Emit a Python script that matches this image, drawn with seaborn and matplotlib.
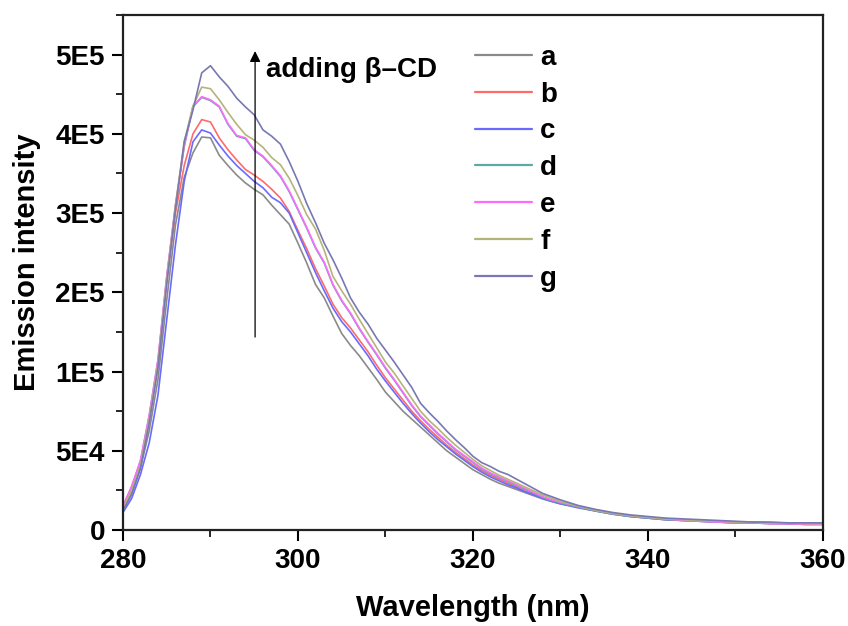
import matplotlib
matplotlib.use("Agg")
import matplotlib.pyplot as plt
from matplotlib.ticker import FixedLocator, FixedFormatter, MultipleLocator
import seaborn as sns
import pandas as pd

# wavelength grid (nm)
wavelength = list(range(280, 331)) + list(range(332, 361, 2))

# emission intensity, in units of 1E5
a = [0.27, 0.47, 0.78, 1.25, 1.90, 2.90, 3.85, 4.45, 4.76, 4.96, 4.95,
     4.73, 4.60, 4.48, 4.38, 4.30, 4.23, 4.10, 3.98, 3.86, 3.62,
     3.37, 3.10, 2.93, 2.70, 2.48, 2.33, 2.20, 2.05, 1.90, 1.74,
     1.62, 1.50, 1.40, 1.30, 1.20, 1.10, 1.00, 0.92, 0.84, 0.76,
     0.70, 0.64, 0.59, 0.55, 0.51, 0.47, 0.43, 0.39, 0.36, 0.33,
     0.29, 0.25, 0.21, 0.18, 0.16, 0.14, 0.13, 0.12, 0.11, 0.10, 0.10, 0.09, 0.09, 0.09, 0.09]
b = [0.30, 0.55, 0.85, 1.40, 2.08, 3.15, 4.00, 4.60, 5.00, 5.18, 5.15,
     4.95, 4.80, 4.67, 4.55, 4.48, 4.40, 4.30, 4.19, 4.02, 3.78,
     3.55, 3.30, 3.08, 2.85, 2.68, 2.55, 2.40, 2.25, 2.08, 1.92,
     1.78, 1.64, 1.50, 1.38, 1.27, 1.17, 1.07, 0.98, 0.90, 0.82,
     0.75, 0.69, 0.64, 0.59, 0.54, 0.49, 0.45, 0.41, 0.37, 0.34,
     0.29, 0.24, 0.20, 0.17, 0.15, 0.13, 0.12, 0.11, 0.10, 0.09, 0.09, 0.08, 0.08, 0.07, 0.07]
c = [0.22, 0.40, 0.70, 1.10, 1.70, 2.65, 3.60, 4.40, 4.90, 5.05, 5.01,
     4.86, 4.72, 4.60, 4.50, 4.40, 4.32, 4.20, 4.13, 4.00, 3.75,
     3.50, 3.25, 3.02, 2.80, 2.63, 2.50, 2.35, 2.20, 2.03, 1.88,
     1.74, 1.60, 1.47, 1.35, 1.24, 1.14, 1.05, 0.96, 0.88, 0.80,
     0.73, 0.67, 0.62, 0.57, 0.53, 0.48, 0.44, 0.40, 0.36, 0.33,
     0.28, 0.24, 0.20, 0.17, 0.15, 0.13, 0.12, 0.11, 0.10, 0.09, 0.09, 0.09, 0.08, 0.08, 0.08]
d = [0.29, 0.54, 0.87, 1.44, 2.14, 3.19, 4.09, 4.84, 5.34, 5.46, 5.42,
     5.34, 5.12, 4.97, 4.94, 4.79, 4.71, 4.59, 4.46, 4.27, 4.04,
     3.81, 3.56, 3.37, 3.09, 2.89, 2.73, 2.54, 2.37, 2.21, 2.04,
     1.89, 1.73, 1.57, 1.43, 1.32, 1.21, 1.11, 1.01, 0.93, 0.85,
     0.77, 0.71, 0.66, 0.61, 0.56, 0.51, 0.46, 0.41, 0.37, 0.34,
     0.29, 0.24, 0.20, 0.17, 0.15, 0.13, 0.12, 0.11, 0.10, 0.09, 0.09, 0.08, 0.08, 0.07, 0.07]
e = [0.30, 0.55, 0.88, 1.45, 2.15, 3.20, 4.10, 4.85, 5.35, 5.47, 5.43,
     5.35, 5.13, 4.98, 4.95, 4.80, 4.72, 4.60, 4.47, 4.28, 4.05,
     3.82, 3.57, 3.38, 3.10, 2.90, 2.74, 2.55, 2.38, 2.22, 2.05,
     1.90, 1.74, 1.58, 1.44, 1.33, 1.22, 1.12, 1.02, 0.94, 0.86,
     0.78, 0.72, 0.67, 0.62, 0.57, 0.52, 0.47, 0.42, 0.38, 0.35,
     0.30, 0.25, 0.21, 0.18, 0.16, 0.14, 0.12, 0.11, 0.10, 0.09, 0.09, 0.08, 0.08, 0.07, 0.07]
f = [0.28, 0.50, 0.82, 1.40, 2.10, 3.15, 4.10, 4.90, 5.35, 5.59, 5.57,
     5.43, 5.27, 5.12, 4.99, 4.92, 4.83, 4.70, 4.61, 4.44, 4.22,
     3.98, 3.80, 3.53, 3.20, 3.02, 2.85, 2.66, 2.48, 2.30, 2.12,
     1.98, 1.82, 1.66, 1.50, 1.38, 1.28, 1.17, 1.07, 0.98, 0.89,
     0.81, 0.75, 0.69, 0.64, 0.59, 0.54, 0.49, 0.44, 0.40, 0.36,
     0.30, 0.25, 0.21, 0.18, 0.16, 0.14, 0.13, 0.12, 0.11, 0.10, 0.10, 0.09, 0.09, 0.08, 0.08]
g = [0.24, 0.45, 0.78, 1.35, 2.05, 3.10, 4.05, 4.90, 5.30, 5.77, 5.86,
     5.72, 5.60, 5.45, 5.34, 5.24, 5.05, 4.97, 4.87, 4.65, 4.40,
     4.12, 3.88, 3.62, 3.41, 3.18, 2.93, 2.75, 2.60, 2.42, 2.27,
     2.12, 1.96, 1.80, 1.60, 1.48, 1.37, 1.25, 1.14, 1.04, 0.93,
     0.85, 0.80, 0.74, 0.70, 0.64, 0.58, 0.52, 0.46, 0.42, 0.38,
     0.31, 0.26, 0.22, 0.19, 0.17, 0.15, 0.14, 0.13, 0.12, 0.11, 0.10, 0.10, 0.09, 0.09, 0.09]

series_names = ['a', 'b', 'c', 'd', 'e', 'f', 'g']
colors = ['#8a8a8a', '#ff6a6a', '#6a6aff', '#5aaaa8', '#ff6aff', '#b4b47a', '#7878b4']

# y tick positions (axis units) and the labels printed on the original
ytick_pos = [0, 1e5, 2e5, 3e5, 4e5, 5e5, 6e5]
ytick_labels = ['0', '5E4', '1E5', '2E5', '3E5', '4E5', '5E5']

wide = pd.DataFrame({'Wavelength': wavelength, 'a': a, 'b': b, 'c': c, 'd': d,
                     'e': e, 'f': f, 'g': g})
df = wide.melt(id_vars='Wavelength', var_name='sample', value_name='Intensity')
df['Intensity'] = df['Intensity'] * 1e5

sns.set_style("ticks")
plt.rcParams['font.family'] = ['Liberation Sans', 'DejaVu Sans']
plt.rcParams['font.weight'] = 'bold'
for key in ['text.color', 'axes.labelcolor', 'xtick.color', 'ytick.color', 'axes.edgecolor']:
    plt.rcParams[key] = 'black'

fig = plt.figure(figsize=(8.48, 6.26), dpi=100)
ax = fig.add_axes([0.145, 0.1534, 0.8255, 0.8226])

sns.lineplot(data=df, x='Wavelength', y='Intensity', hue='sample',
             hue_order=series_names, palette=colors, linewidth=1.2, ax=ax)

ax.set_xlim(280, 360)
ax.set_ylim(0, 6.5e5)
ax.xaxis.set_major_locator(MultipleLocator(20))
ax.xaxis.set_minor_locator(MultipleLocator(10))
ax.yaxis.set_major_locator(FixedLocator(ytick_pos))
ax.yaxis.set_major_formatter(FixedFormatter(ytick_labels))
ax.yaxis.set_minor_locator(MultipleLocator(0.5e5))

for side in ['left', 'bottom', 'top', 'right']:
    ax.spines[side].set_linewidth(1.6)
    ax.spines[side].set_color('#222222')
ax.tick_params(which='major', direction='out', length=8, width=1.5, labelsize=20, pad=5)
ax.tick_params(which='minor', direction='out', length=5, width=1.2)
for lab in ax.get_xticklabels() + ax.get_yticklabels():
    lab.set_fontweight('bold')

ax.set_xlabel('Wavelength (nm)', fontsize=21, fontweight='bold')
ax.set_ylabel('Emission intensity', fontsize=21, fontweight='bold')
ax.xaxis.set_label_coords(0.5, -0.125)
ax.yaxis.set_label_coords(-0.117, 0.52)

# arrow and annotation
ax.annotate('', xy=(295.1, 6.08e5), xytext=(295.1, 2.4e5),
            arrowprops=dict(arrowstyle='-|>', color='black', lw=0.9, mutation_scale=16))
ax.text(296.4, 5.8e5, 'adding β\u2013CD', fontsize=20, fontweight='bold', va='center', ha='left')

leg = ax.legend(loc='upper left', bbox_to_anchor=(0.487, 0.964), frameon=False,
                fontsize=20, handlelength=2.05, handletextpad=0.3, labelspacing=0.39,
                borderaxespad=0)
for line in leg.get_lines():
    line.set_linewidth(1.6)
for txt in leg.get_texts():
    txt.set_fontweight('bold')

fig.savefig('out.png', dpi=100)
